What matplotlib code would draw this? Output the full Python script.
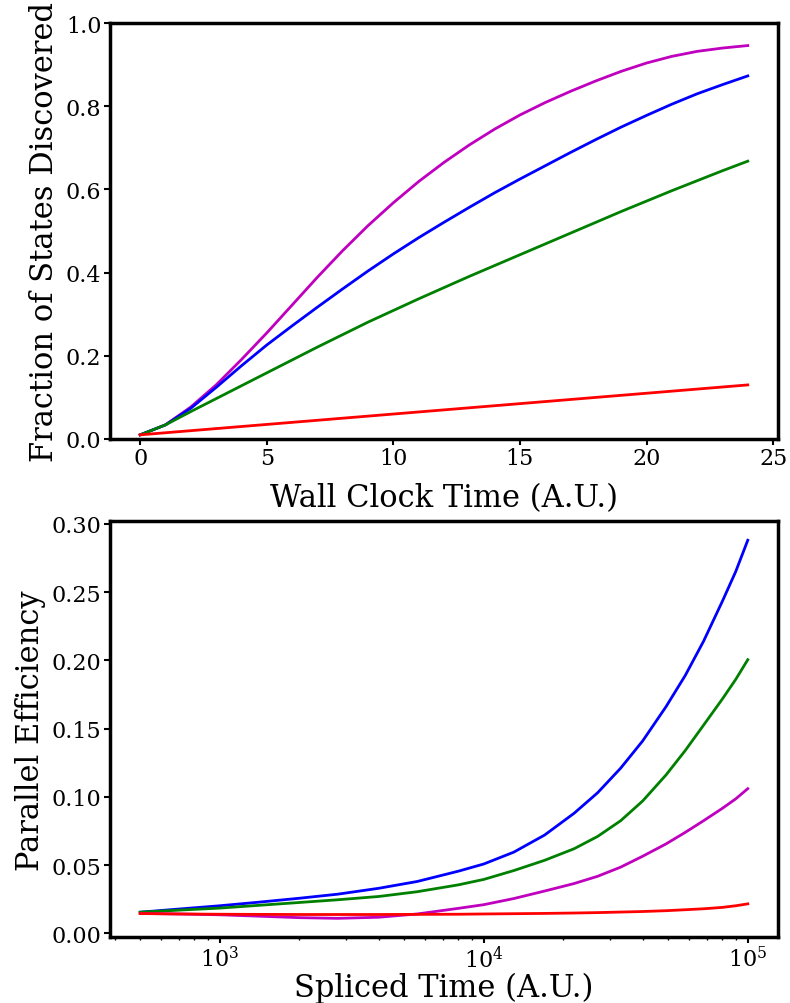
import matplotlib
matplotlib.use("Agg")
import matplotlib.pyplot as plt
from matplotlib.ticker import FormatStrFormatter

plt.rcParams['font.family'] = ['DejaVu Serif']

# top panel: fraction of states vs wall clock time
wall_time = [0, 1, 2, 3, 4, 5, 6, 7, 8, 9, 10, 11, 12,
             13, 14, 15, 16, 17, 18, 19, 20, 21, 22, 23, 24]
frac_magenta = [0.010, 0.034, 0.077, 0.130, 0.191, 0.255, 0.322, 0.389, 0.453,
                0.513, 0.568, 0.619, 0.665, 0.707, 0.745, 0.779, 0.809, 0.836,
                0.861, 0.884, 0.904, 0.920, 0.932, 0.940, 0.946]
frac_blue = [0.010, 0.034, 0.074, 0.124, 0.176, 0.226, 0.272, 0.317, 0.361,
             0.404, 0.445, 0.484, 0.521, 0.557, 0.592, 0.625, 0.657, 0.689,
             0.720, 0.750, 0.778, 0.805, 0.830, 0.852, 0.873]
frac_green = [0.010, 0.034, 0.066, 0.097, 0.128, 0.159, 0.190, 0.221, 0.251,
              0.281, 0.309, 0.337, 0.364, 0.391, 0.417, 0.443, 0.469, 0.495,
              0.521, 0.547, 0.572, 0.597, 0.621, 0.645, 0.668]
frac_red = [0.010, 0.015, 0.020, 0.025, 0.030, 0.035, 0.040, 0.045, 0.050,
            0.055, 0.060, 0.065, 0.070, 0.075, 0.080, 0.085, 0.090, 0.095,
            0.100, 0.105, 0.110, 0.115, 0.120, 0.125, 0.130]

# bottom panel: parallel efficiency vs spliced time
spliced_time = [500, 700, 1000, 1400, 2000, 2800, 4000, 5600, 8000, 10000,
                13000, 17000, 22000, 27000, 33000, 40000, 49000, 58000,
                68000, 80000, 90000, 100000]
eff_blue = [0.0155, 0.0178, 0.0202, 0.0228, 0.0257, 0.0287, 0.0330, 0.0380,
            0.0455, 0.0508, 0.0595, 0.0720, 0.0880, 0.1030, 0.1210, 0.1410,
            0.1660, 0.1890, 0.2140, 0.2430, 0.2650, 0.2880]
eff_green = [0.0155, 0.0170, 0.0185, 0.0205, 0.0226, 0.0246, 0.0270, 0.0305,
             0.0355, 0.0395, 0.0460, 0.0535, 0.0620, 0.0710, 0.0825, 0.0970,
             0.1160, 0.1340, 0.1525, 0.1715, 0.1860, 0.2005]
eff_magenta = [0.0146, 0.0142, 0.0136, 0.0126, 0.0115, 0.0110, 0.0118, 0.0142,
               0.0183, 0.0210, 0.0255, 0.0310, 0.0365, 0.0418, 0.0485, 0.0565,
               0.0655, 0.0740, 0.0825, 0.0915, 0.0985, 0.1060]
eff_red = [0.0145, 0.0142, 0.0140, 0.0139, 0.0138, 0.0138, 0.0138, 0.0139,
           0.0140, 0.0142, 0.0144, 0.0146, 0.0149, 0.0152, 0.0156, 0.0160,
           0.0166, 0.0173, 0.0180, 0.0190, 0.0202, 0.0216]

fig, (ax1, ax2) = plt.subplots(2, 1, figsize=(7.9, 10.04), dpi=100)
fig.subplots_adjust(left=0.139, right=0.985, top=0.976, bottom=0.0655, hspace=0.198)

lw = 2
ax1.plot(wall_time, frac_magenta, color='m', lw=lw)
ax1.plot(wall_time, frac_blue, color='b', lw=lw)
ax1.plot(wall_time, frac_green, color='g', lw=lw)
ax1.plot(wall_time, frac_red, color='r', lw=lw)
ax1.set_ylim(0, 1)
ax1.set_xlabel('Wall Clock Time (A.U.)', fontsize=22, labelpad=9)
ax1.set_ylabel('Fraction of States Discovered', fontsize=22)

ax2.plot(spliced_time, eff_blue, color='b', lw=lw)
ax2.plot(spliced_time, eff_green, color='g', lw=lw)
ax2.plot(spliced_time, eff_magenta, color='m', lw=lw)
ax2.plot(spliced_time, eff_red, color='r', lw=lw)
ax2.set_xscale('log')
ax2.set_yticks([0.0, 0.05, 0.10, 0.15, 0.20, 0.25, 0.30])
ax2.yaxis.set_major_formatter(FormatStrFormatter('%.2f'))
ax2.set_xlabel('Spliced Time (A.U.)', fontsize=22, labelpad=0)
ax2.set_ylabel('Parallel Efficiency', fontsize=22)

for ax in (ax1, ax2):
    for sp in ax.spines.values():
        sp.set_linewidth(2.5)
    ax.tick_params(which='major', labelsize=16, length=4, width=1.5, pad=2)
    ax.tick_params(which='minor', length=2, width=1)

fig.savefig('out.png', dpi=100)
